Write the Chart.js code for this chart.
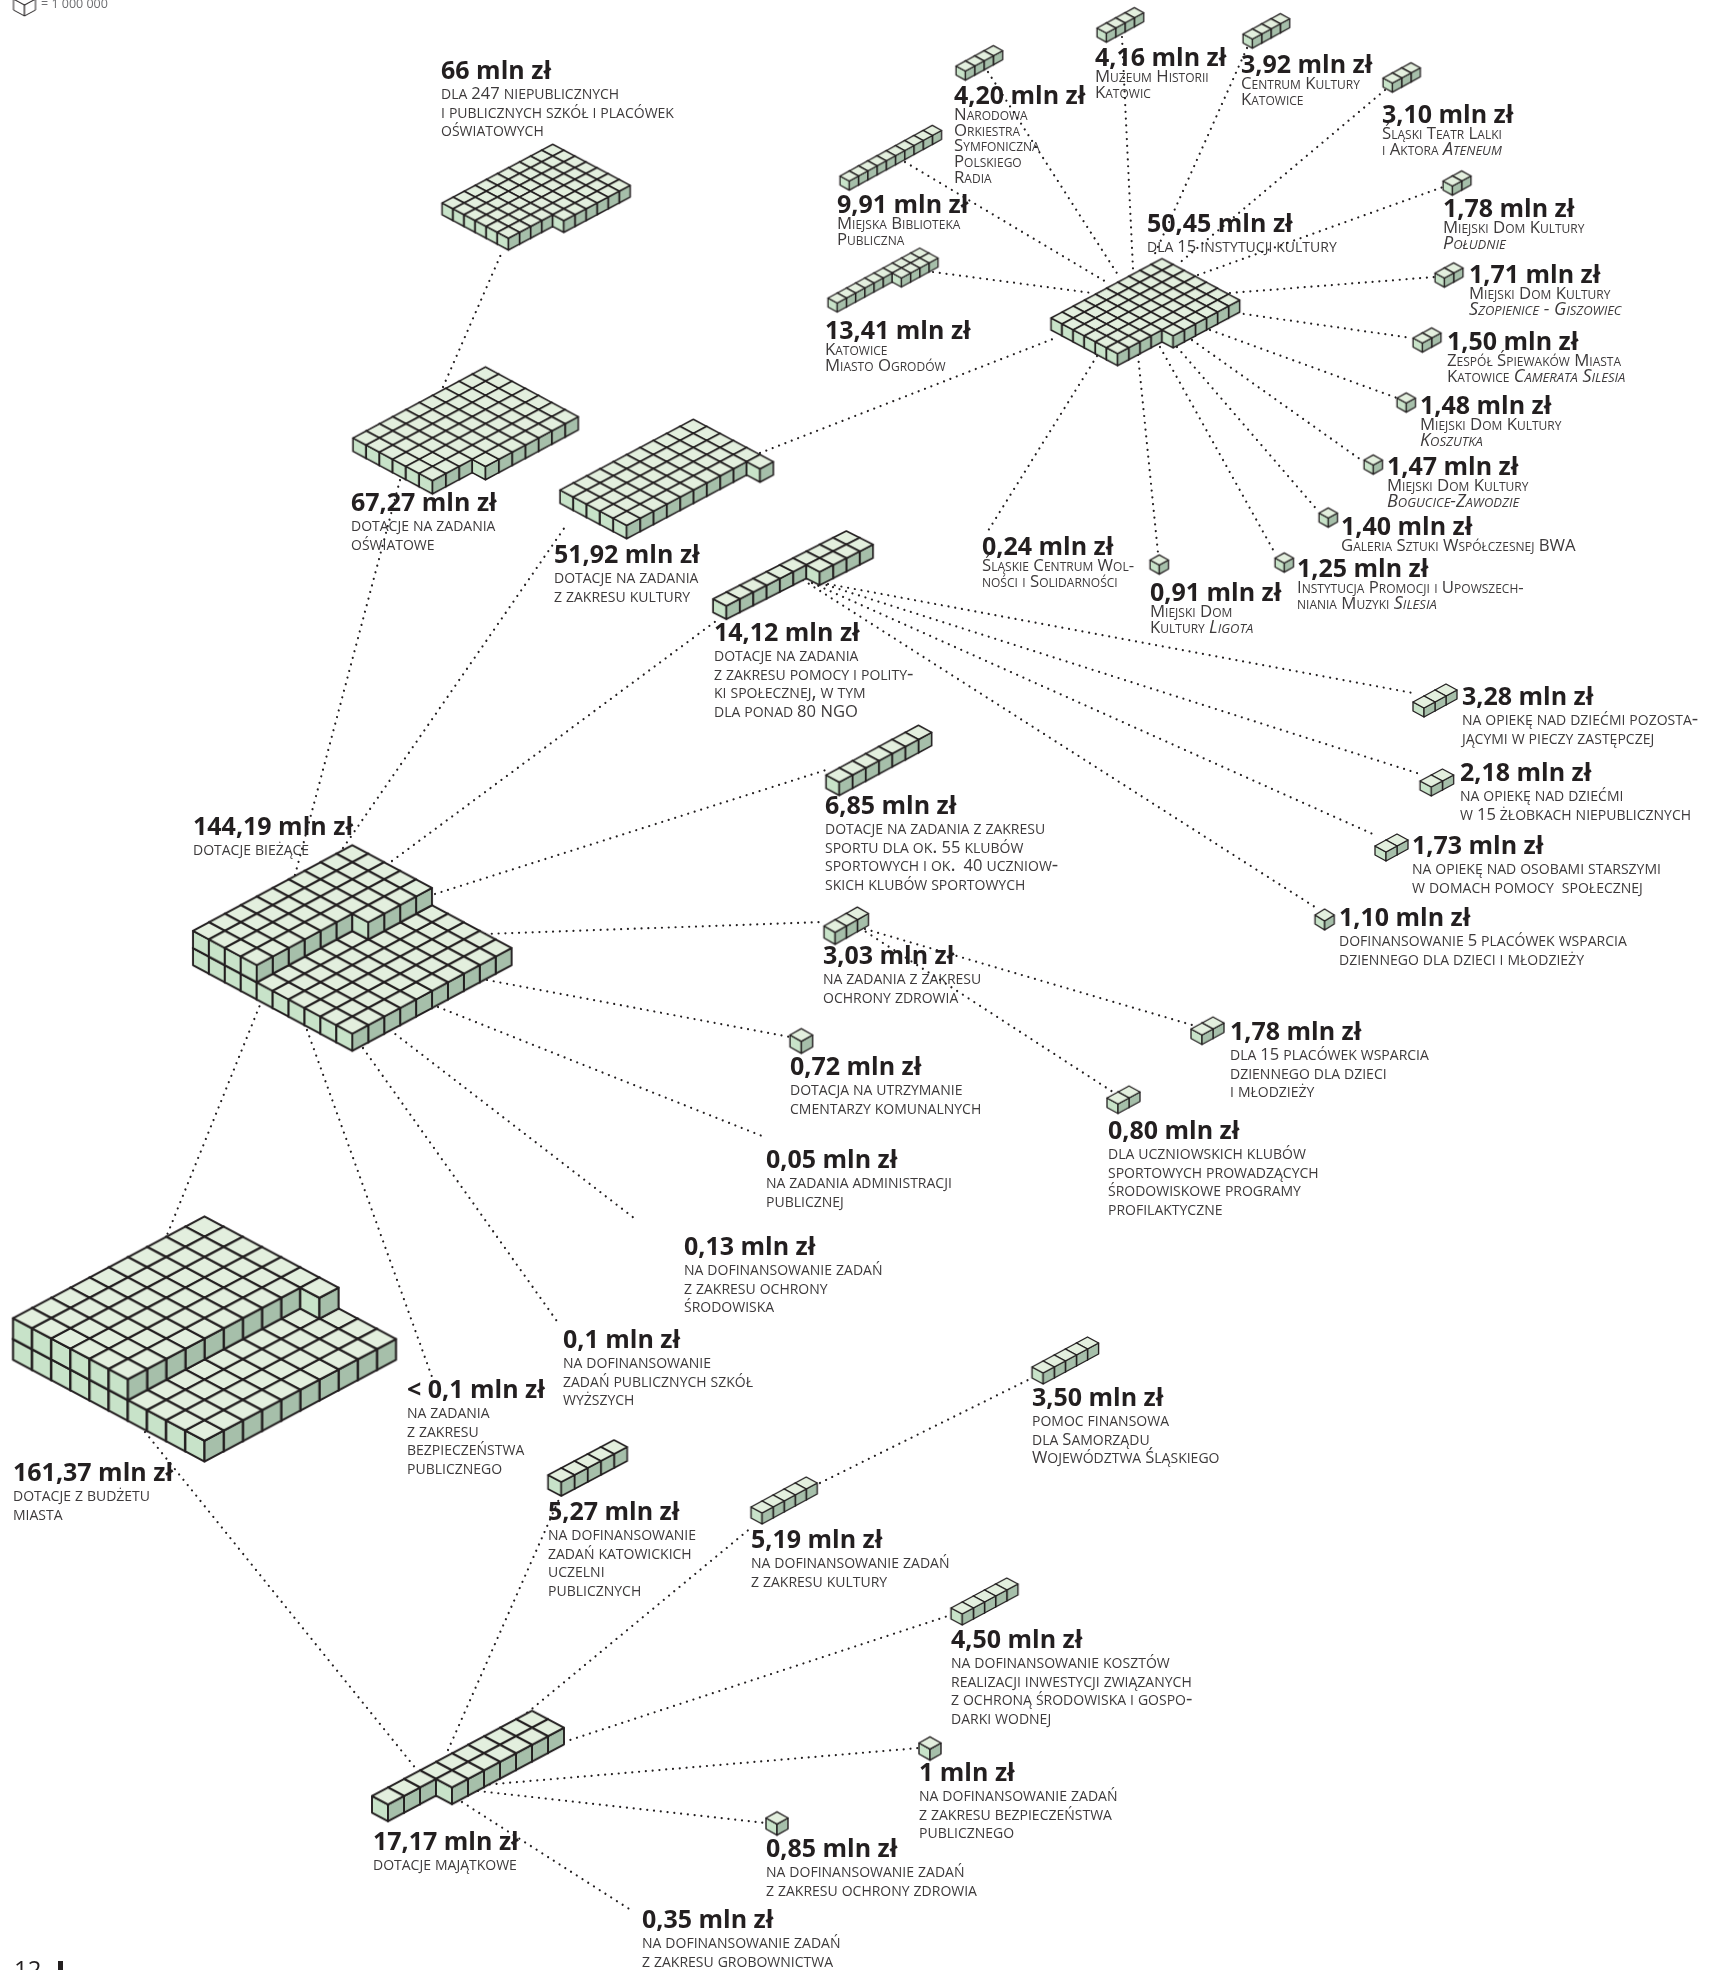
<!DOCTYPE html>
<html lang="pl">
<head>
<meta charset="utf-8">
<title>Dotacje z budżetu miasta</title>
<style>
  html, body { margin: 0; padding: 0; background: #fff; }
  canvas { display: block; }
</style>
</head>
<body>
<canvas id="chart" width="1722" height="1970"></canvas>
<script src="https://cdn.jsdelivr.net/npm/chart.js@4/dist/chart.umd.min.js"></script>
<script>
// kwoty i opisy ( *...* = kursywa )
const amounts = [
  '66 mln zł', '67,27 mln zł', '51,92 mln zł', '14,12 mln zł', '144,19 mln zł', '6,85 mln zł',
  '3,03 mln zł', '0,72 mln zł', '0,05 mln zł', '0,13 mln zł', '0,1 mln zł', '< 0,1 mln zł',
  '161,37 mln zł', '5,27 mln zł', '3,50 mln zł', '5,19 mln zł', '4,50 mln zł', '1 mln zł',
  '0,85 mln zł', '17,17 mln zł', '0,35 mln zł', '3,28 mln zł', '2,18 mln zł', '1,73 mln zł',
  '1,10 mln zł', '1,78 mln zł', '0,80 mln zł', '50,45 mln zł',
  '4,20 mln zł', '4,16 mln zł', '3,92 mln zł', '3,10 mln zł', '9,91 mln zł', '13,41 mln zł',
  '1,78 mln zł', '1,71 mln zł', '1,50 mln zł', '1,48 mln zł', '1,47 mln zł', '1,40 mln zł',
  '1,25 mln zł', '0,91 mln zł', '0,24 mln zł'
];
const notes = [
  ['dla 247 niepublicznych', 'i publicznych szkół i placówek', 'oświatowych'],
  ['dotacje na zadania', 'oświatowe'],
  ['dotacje na zadania', 'z zakresu kultury'],
  ['dotacje na zadania', 'z zakresu pomocy i polity-', 'ki społecznej, w tym', 'dla ponad 80 NGO'],
  ['dotacje bieżące'],
  ['dotacje na zadania z zakresu', 'sportu dla ok. 55 klubów', 'sportowych i ok.  40 uczniow-', 'skich klubów sportowych'],
  ['na zadania z zakresu', 'ochrony zdrowia'],
  ['dotacja na utrzymanie', 'cmentarzy komunalnych'],
  ['na zadania administracji', 'publicznej'],
  ['na dofinansowanie zadań', 'z zakresu ochrony', 'środowiska'],
  ['na dofinansowanie', 'zadań publicznych szkół', 'wyższych'],
  ['na zadania', 'z zakresu', 'bezpieczeństwa', 'publicznego'],
  ['dotacje z budżetu', 'miasta'],
  ['na dofinansowanie', 'zadań katowickich', 'uczelni', 'publicznych'],
  ['pomoc finansowa', 'dla Samorządu', 'Województwa Śląskiego'],
  ['na dofinansowanie zadań', 'z zakresu kultury'],
  ['na dofinansowanie kosztów', 'realizacji inwestycji związanych', 'z ochroną środowiska i gospo-', 'darki wodnej'],
  ['na dofinansowanie zadań', 'z zakresu bezpieczeństwa', 'publicznego'],
  ['na dofinansowanie zadań', 'z zakresu ochrony zdrowia'],
  ['dotacje majątkowe'],
  ['na dofinansowanie zadań', 'z zakresu grobownictwa'],
  ['na opiekę nad dziećmi pozosta-', 'jącymi w pieczy zastępczej'],
  ['na opiekę nad dziećmi', 'w 15 żłobkach niepublicznych'],
  ['na opiekę nad osobami starszymi', 'w domach pomocy  społecznej'],
  ['dofinansowanie 5 placówek wsparcia', 'dziennego dla dzieci i młodzieży'],
  ['dla 15 placówek wsparcia', 'dziennego dla dzieci', 'i młodzieży'],
  ['dla uczniowskich klubów', 'sportowych prowadzących', 'środowiskowe programy', 'profilaktyczne'],
  ['dla 15 instytucji kultury'],
  ['Narodowa', 'Orkiestra', 'Symfoniczna', 'Polskiego', 'Radia'],
  ['Muzeum Historii', 'Katowic'],
  ['Centrum Kultury', 'Katowice'],
  ['Śląski Teatr Lalki', 'i Aktora *Ateneum*'],
  ['Miejska Biblioteka', 'Publiczna'],
  ['Katowice', 'Miasto Ogrodów'],
  ['Miejski Dom Kultury', '*Południe*'],
  ['Miejski Dom Kultury', '*Szopienice - Giszowiec*'],
  ['Zespół Śpiewaków Miasta', 'Katowice *Camerata Silesia*'],
  ['Miejski Dom Kultury', '*Koszutka*'],
  ['Miejski Dom Kultury', '*Bogucice-Zawodzie*'],
  ['Galeria Sztuki Współczesnej BWA'],
  ['Instytucja Promocji i Upowszech-', 'niania Muzyki *Silesia*'],
  ['Miejski Dom', 'Kultury *Ligota*'],
  ['Śląskie Centrum Wol-', 'ności i Solidarności']
];

// liczba kostek w kolejnych rzędach (warstwa dolna, warstwa górna)
const blockRows = [
  [[6,6,6,6,7,7,7,7,7,7]],
  [[6,6,6,7,7,7,7,7,7,7]],
  [[5,5,5,5,5,5,5,5,5,6]],
  [[1,1,1,1,1,1,2,2,2,2]],
  [[10,10,10,10,10,10,10,10,10,10], [4,4,4,4,4,4,5,5,5,5]],
  [[1,1,1,1,1,1,1]],
  [[1,1,1]],
  [[1]],
  [[10,10,10,10,10,10,10,10,10,10], [6,6,6,6,6,6,6,6,6,7]],
  [[1,1,1,1,1]],
  [[1,1,1,1,1]],
  [[1,1,1,1,1]],
  [[1,1,1,1,1]],
  [[1]],
  [[1]],
  [[1,1,1,2,2,2,2,2,2,2]],
  [[1]],
  [[1,1]],
  [[1,1]],
  [[1,1,1]],
  [[1,1]],
  [[1,1]],
  [[6,6,6,6,7,7,7,7,7,7]],
  [[1,1,1,1]],
  [[1,1,1,1]],
  [[1,1,1,1]],
  [[1,1,1]],
  [[1,1,1,1,1,1,1,1,1,1]],
  [[1,1,1,1,1,1,2,2,2,2]],
  [[1,1]],
  [[1,1]],
  [[1,1]],
  [[1]],
  [[1]],
  [[1]],
  [[1]],
  [[1]]
];

// układ: lewy narożnik górnej ściany pierwszej kostki, rozmiar kostki [dx, dy, h, linia]
const blockAt = [
  [442,203], [353,438], [560,490], [713,599], [193,948], [826,775], [824,926], [790,1035],
  [13,1339], [548,1475], [751,1507], [951,1608], [1032,1367], [919,1743], [766,1818], [372,1796],
  [1315,915], [1375,846], [1420,781], [1413,702], [1191,1029], [1107,1098], [1051,318],
  [956,66], [1097,28], [1243,34], [1383,78], [840,176], [828,298], [1443,181], [1435,273],
  [1413,338], [1397,398], [1364,460], [1319,513], [1275,558], [1150,560]
];
const blockSize = [
  [11.07,5.87,11.7,1.5], [13.25,7.1,13.3,1.6], [13.33,7.07,13.3,1.6], [13.33,6.8,13.3,1.7], [15.93,8.57,17.2,1.9], [13.2,7.1,13.3,1.6], [11.1,6.3,12,1.4], [11.3,6.3,12,1.4],
  [19.15,10.17,20.8,2.1], [13.2,7,14,1.6], [11.03,6,11,1.4], [11.16,6,11,1.4], [11.1,6,11,1.4], [11,6.2,11,1.4], [11,6.2,11,1.4], [16,8.53,16.7,1.9],
  [9.6,6,9,1.3], [11,6,9,1.3], [11.2,6,9,1.3], [11,6,9,1.3], [11,6,9.5,1.3], [11,6,9.5,1.3], [11.1,5.95,12,1.5],
  [9.33,5.1,9.1,1.3], [9.33,5.1,9.1,1.3], [9.33,5.1,9.1,1.3], [9.33,5.1,9.1,1.3], [9.23,5.07,9.1,1.3], [9.17,5,9.1,1.3], [9.33,5.1,9.1,1.3], [9.33,5.1,9.1,1.3],
  [9.33,5.1,9.1,1.3], [9.2,5.1,9.1,1.3], [9.2,5.1,9.1,1.3], [9.2,5.1,9.1,1.3], [9.2,5.1,9.1,1.3], [9.2,5.1,9.1,1.3]
];

// położenie podpisów: x, linia bazowa kwoty; od firstSmallLabel opis jest mniejszy
const labelX = [441,351,554,714,193,825,823,790,766,684,563,407,13,548,1032,751,951,919,766,373,642,1462,1460,1412,1339,1230,1108,1147,
  954,1095,1241,1382,837,825,1443,1469,1447,1420,1387,1341,1297,1150,982];
const labelY = [79,511,563,641,835,814,964,1075,1168,1255,1348,1398,1481,1520,1406,1548,1648,1781,1857,1850,1928,705,781,854,926,1040,1139,232,
  104,66,73,123,213,339,217,283,350,414,475,535,577,601,555];
const firstSmallLabel = 28;

// kropkowane połączenia [x1, y1, x2, y2]
const links = [
  [165,1240,262,1000], [145,1432,417,1770], [295,875,400,480], [443,387,502,252], [343,848,565,527],
  [760,453,1058,337], [392,861,720,618], [435,894,826,770], [485,934,824,922], [487,980,790,1037],
  [438,1007,762,1136], [390,1030,634,1218], [363,1048,559,1324], [307,1030,432,1377],
  [933,272,1092,293], [905,162,1108,283], [988,72,1120,278], [1122,37,1133,269], [1247,48,1153,258],
  [1385,90,1177,265], [1198,275,1443,187], [1230,293,1435,277], [1237,313,1412,338], [1210,330,1397,398],
  [1192,340,1364,462], [1177,347,1319,512], [1160,347,1276,555], [1138,355,1158,553], [1097,356,986,534],
  [828,584,1413,693], [820,583,1420,774], [812,583,1375,835], [803,580,1315,907],
  [865,929,1192,1025], [860,928,1113,1092],
  [448,1750,560,1497], [522,1717,752,1527], [820,1483,1032,1378], [564,1742,951,1615],
  [483,1785,919,1748], [478,1791,766,1823], [462,1802,634,1912]
];

const INK = '#231f20';
const NOTE_INK = '#3d3a3b';
const FACE_TOP = '#e3efde';
const FACE_LEFT = '#c8e3c9';
const FACE_RIGHT = '#a6bfaa';

// kostka jako obrazek, używany potem jako pointStyle
function cubeImage(size, top, left, right) {
  const [dx, dy, h, lw] = size;
  const c = document.createElement('canvas');
  c.width = Math.ceil(2 * dx + 4);
  c.height = Math.ceil(2 * dy + h + 4);
  const ctx = c.getContext('2d');
  const cx = c.width / 2;
  const ty = c.height / 2 - (2 * dy + h) / 2;
  const face = (pts, fill) => {
    ctx.beginPath();
    pts.forEach((p, i) => i ? ctx.lineTo(p[0], p[1]) : ctx.moveTo(p[0], p[1]));
    ctx.closePath();
    ctx.fillStyle = fill;
    ctx.fill();
    ctx.stroke();
  };
  ctx.strokeStyle = INK;
  ctx.lineWidth = lw;
  ctx.lineJoin = 'round';
  face([[cx - dx, ty + dy], [cx, ty + 2 * dy], [cx, ty + 2 * dy + h], [cx - dx, ty + dy + h]], left);
  face([[cx + dx, ty + dy], [cx, ty + 2 * dy], [cx, ty + 2 * dy + h], [cx + dx, ty + dy + h]], right);
  face([[cx, ty], [cx + dx, ty + dy], [cx, ty + 2 * dy], [cx - dx, ty + dy]], top);
  return c;
}

// środki kostek jednego bloku, od tylnej do przedniej
function cubeCentres(rows, at, size) {
  const [dx, dy, h] = size;
  const pts = [];
  rows.forEach((layer, k) => {
    const cells = [];
    layer.forEach((w, a) => {
      for (let b = 0; b < w; b++) cells.push([a, b]);
    });
    cells.sort((p, q) => (p[1] - p[0]) - (q[1] - q[0]));
    cells.forEach(([a, b]) => {
      pts.push({
        x: at[0] + dx + (a + b) * dx,
        y: at[1] + h / 2 + (b - a) * dy - k * h
      });
    });
  });
  return pts;
}

const datasets = [];
links.forEach(l => {
  datasets.push({
    type: 'scatter',
    showLine: true,
    data: [{ x: l[0], y: l[1] }, { x: l[2], y: l[3] }],
    borderColor: INK,
    borderWidth: 2.2,
    borderDash: [0.01, 6.8],
    borderCapStyle: 'round',
    pointRadius: 0,
    order: 3
  });
});
blockRows.forEach((rows, i) => {
  datasets.push({
    type: 'scatter',
    data: cubeCentres(rows, blockAt[i], blockSize[i]),
    pointStyle: cubeImage(blockSize[i], FACE_TOP, FACE_LEFT, FACE_RIGHT),
    pointRadius: 5,
    order: 1
  });
});
// legenda: jedna pusta kostka
datasets.push({
  type: 'scatter',
  data: [{ x: 24.5, y: 4.5 }],
  pointStyle: cubeImage([11, 6, 11, 1], '#fff', '#fff', '#fff'),
  pointRadius: 5,
  order: 1
});
// pasek przy numerze strony
datasets.push({
  type: 'scatter',
  showLine: true,
  data: [{ x: 60.5, y: 1961 }, { x: 60.5, y: 1970 }],
  borderColor: INK,
  borderWidth: 5,
  pointRadius: 0,
  order: 1
});

// małe litery kapitalikami, cyfry i wielkie litery zwykłym krojem
function drawPlainNote(ctx, line, x, y) {
  line.split(/([0-9A-ZŚŻŹŁ]+(?: [0-9A-ZŚŻŹŁ]+)*)/).forEach((part, i) => {
    if (!part) return;
    ctx.font = i % 2 ? '400 16.6px "Open Sans"' : 'small-caps 400 19.9px "Open Sans"';
    ctx.wordSpacing = i % 2 ? '0px' : '-1.2px';
    ctx.fillText(part, x, y);
    x += ctx.measureText(part).width;
  });
  ctx.wordSpacing = '0px';
}

function drawSmallNote(ctx, line, x, y) {
  line.split('*').forEach((part, i) => {
    if (!part) return;
    ctx.font = i % 2 ? 'italic small-caps 400 18px "Open Sans"' : 'small-caps 400 16.8px "Open Sans"';
    ctx.fillText(part, x, y);
    x += ctx.measureText(part).width;
  });
}

const textPlugin = {
  id: 'texts',
  beforeDatasetsDraw(chart) {
    const { ctx, scales } = chart;
    ctx.save();
    ctx.textBaseline = 'alphabetic';
    ctx.textAlign = 'left';
    amounts.forEach((txt, i) => {
      const x = scales.x.getPixelForValue(labelX[i]);
      const y = scales.y.getPixelForValue(labelY[i]);
      ctx.fillStyle = INK;
      ctx.font = '700 25px "Open Sans"';
      ctx.fillText(txt, x, y);
      ctx.fillStyle = NOTE_INK;
      notes[i].forEach((line, n) => {
        if (i >= firstSmallLabel) drawSmallNote(ctx, line, x, y + 16 + n * 15.7);
        else drawPlainNote(ctx, line, x, y + 20 + n * 18.7);
      });
    });
    ctx.fillStyle = '#6d6e71';
    ctx.font = '12.5px "Open Sans"';
    ctx.fillText('= 1 000 000', scales.x.getPixelForValue(41), scales.y.getPixelForValue(8));
    ctx.fillStyle = INK;
    ctx.font = '24px "Open Sans"';
    ctx.fillText('12', scales.x.getPixelForValue(14), scales.y.getPixelForValue(1978));
    ctx.restore();
  }
};

new Chart(document.getElementById('chart').getContext('2d'), {
  type: 'scatter',
  data: { datasets: datasets },
  plugins: [textPlugin],
  options: {
    responsive: false,
    animation: false,
    events: [],
    layout: { padding: 0, autoPadding: false },
    plugins: { legend: { display: false }, tooltip: { enabled: false } },
    scales: {
      x: { type: 'linear', min: 0, max: 1722, display: false },
      y: { type: 'linear', min: 0, max: 1970, reverse: true, display: false }
    }
  }
});
</script>
</body>
</html>
